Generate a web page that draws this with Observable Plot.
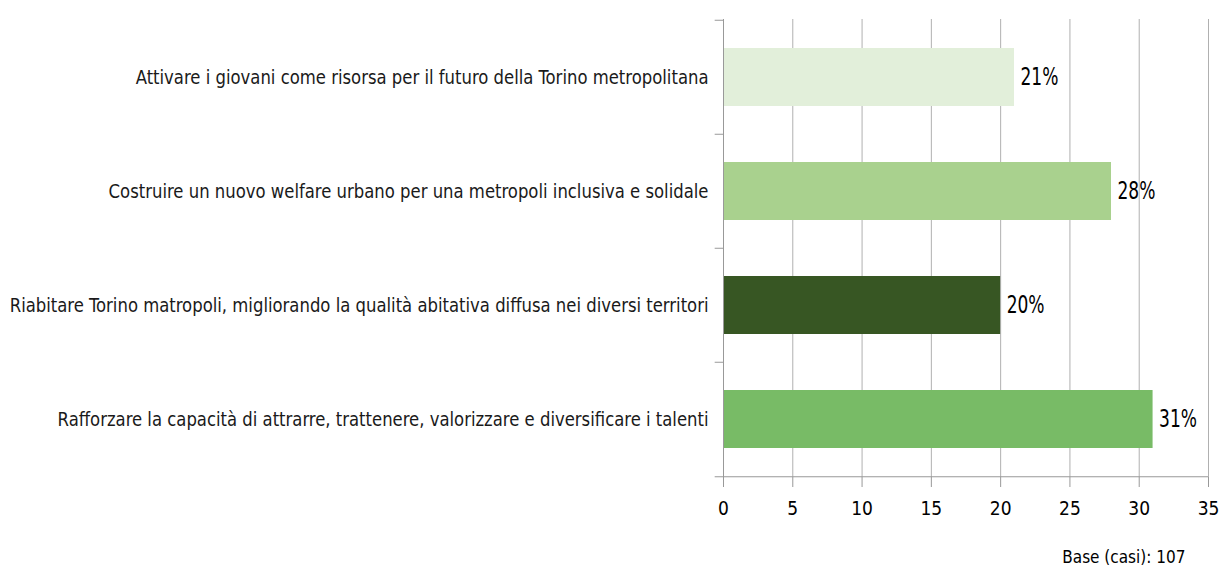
<!DOCTYPE html>
<html><head><meta charset="utf-8">
<script src="https://cdn.jsdelivr.net/npm/d3@7"></script>
<script src="https://cdn.jsdelivr.net/npm/@observablehq/plot@0.6"></script>
<style>body{margin:0;background:#fff}</style>
</head><body><div id="chart"></div>
<script>
const categories = [
  "Attivare i giovani come risorsa per il futuro della Torino metropolitana",
  "Costruire un nuovo welfare urbano per una metropoli inclusiva e solidale",
  "Riabitare Torino matropoli, migliorando la qualità abitativa diffusa nei diversi territori",
  "Rafforzare la capacità di attrarre, trattenere, valorizzare e diversificare i talenti"
];
const values = [21, 28, 20, 31];
const barColors = ["#e2efda", "#a9d18e", "#375623", "#78bb66"];
const xTicks = [0, 5, 10, 15, 20, 25, 30, 35];
const caption = "Base (casi): 107";

const data = categories.map((c, i) => ({category: c, value: values[i], color: barColors[i]}));

const W = 1219, H = 570, mT = 19, mB = 93, mL = 723, mR = 11;
const step = (H - mT - mB) / categories.length;
const font = "'DejaVu Sans Condensed', 'Liberation Sans Narrow', sans-serif";

const chart = Plot.plot({
  width: W, height: H,
  marginTop: mT, marginBottom: mB, marginLeft: mL, marginRight: mR,
  style: {fontFamily: font, background: "#fff", color: "#000"},
  x: {domain: [0, 35], ticks: xTicks, label: null},
  y: {domain: categories, paddingInner: 0.49, paddingOuter: 0.245, label: null},
  marks: [
    Plot.gridX(xTicks, {stroke: "#b0b0b0", strokeOpacity: 1, strokeWidth: 1}),
    Plot.barX(data, {x: "value", y: "category", fill: "color"}),
    Plot.ruleX([0], {stroke: "#999", strokeWidth: 1}),
    Plot.ruleY(categories, {y: d => d, x1: -0.6, x2: 0, dy: -step / 2, stroke: "#999"}),
    Plot.ruleY([categories[categories.length - 1]], {y: d => d, x1: -0.6, x2: 35, dy: step / 2, stroke: "#999"}),
    Plot.axisX(xTicks, {tickSize: 10, tickPadding: 14, fontSize: 19, stroke: "#999", fill: "#000", label: null}),
    Plot.axisY({tickSize: 0, tickPadding: 15, fontSize: 20, fill: "#1a1a1a", label: null}),
    Plot.text(data, {x: "value", y: "category", text: d => d.value + "%", textAnchor: "start", dx: 6, fontSize: 24, fill: "#000"}),
    Plot.text([caption], {frameAnchor: "bottom-right", text: d => d, textAnchor: "end", dx: -23, dy: 85, fontSize: 17, fill: "#000"})
  ]
});
document.getElementById("chart").appendChild(chart);

// Horizontal condensing to mimic the narrow fonts of the original
function condense(elements, factor) {
  elements.forEach(t => {
    const w = t.getComputedTextLength();
    t.setAttribute("textLength", (w * factor).toFixed(1));
    t.setAttribute("lengthAdjust", "spacingAndGlyphs");
  });
}
condense(chart.querySelectorAll('g[aria-label="y-axis tick label"] text'), 0.915);
const textGroups = chart.querySelectorAll('g[aria-label="text"]');
condense(textGroups[0].querySelectorAll("text"), 0.79);
</script>
</body></html>
